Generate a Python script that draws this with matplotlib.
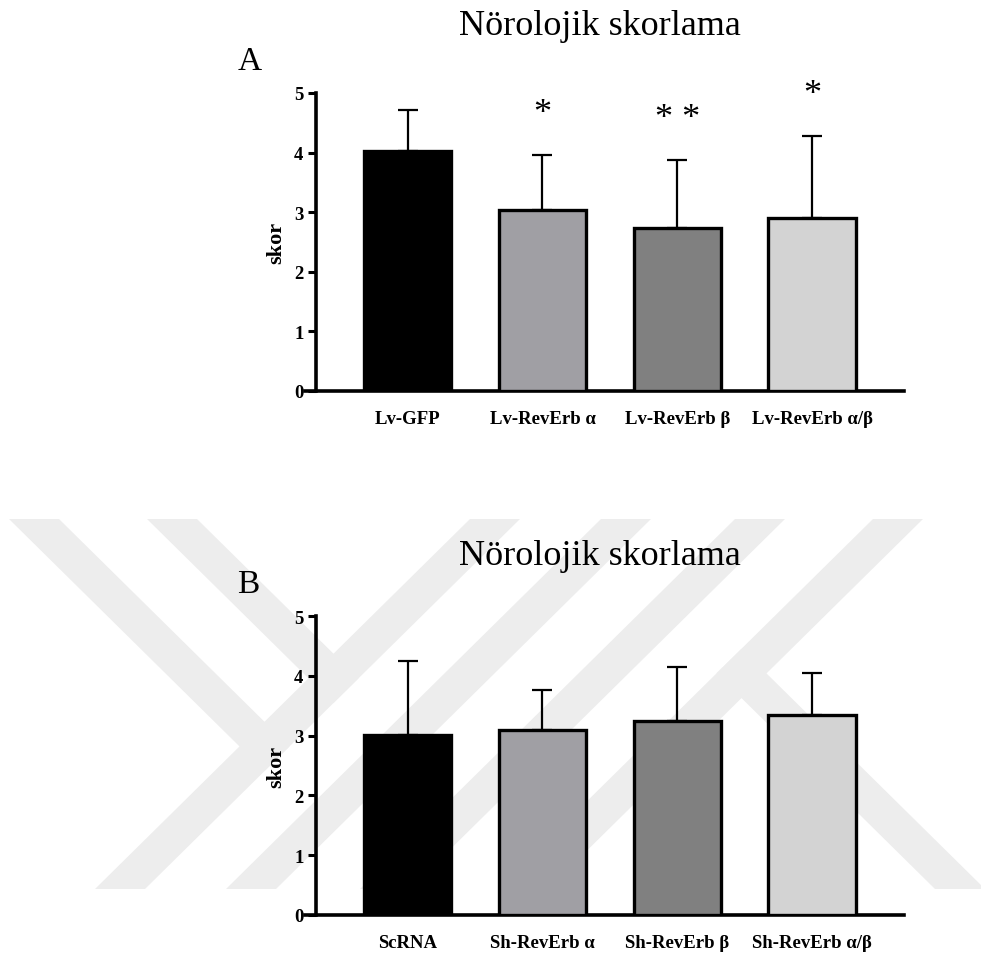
import matplotlib
matplotlib.use("Agg")
import matplotlib.pyplot as plt
from matplotlib.patches import Polygon

# ── Data ──────────────────────────────────────────────────────────────────────
groups_a = ["Lv-GFP", "Lv-RevErb α", "Lv-RevErb β", "Lv-RevErb α/β"]
means_a  = [4.03, 3.03, 2.73, 2.90]
err_a    = [0.69, 0.93, 1.15, 1.38]
stars_a  = ["", "*", "* *", "*"]

groups_b = ["ScRNA", "Sh-RevErb α", "Sh-RevErb β", "Sh-RevErb α/β"]
means_b  = [3.01, 3.10, 3.24, 3.34]
err_b    = [1.24, 0.66, 0.90, 0.70]

bar_colors = ["#000000", "#a09fa4", "#808080", "#d3d3d3"]
title = "Nörolojik skorlama"
yticks = [0, 1, 2, 3, 4, 5]

plt.rcParams["font.family"] = ["Liberation Serif", "DejaVu Serif"]

W, H = 981, 962
fig = plt.figure(figsize=(W / 100, H / 100), dpi=100)
fig.patch.set_facecolor("white")


# ── Watermark (pale diagonal bands behind panel B) ───────────────────────────
wm = fig.add_axes([0, 0, 1, 1], zorder=-1)
wm.set_xlim(0, W)
wm.set_ylim(H, 0)
wm.axis("off")

WM_TOP, WM_BOT = 520, 890
K = 375 / 370          # horizontal shift per pixel down
BAND = 50
WM_COLOR = "#ededed"
slash_tops = [470, 601, 735, 873]      # "/" bands, left edge at top
back_tops = [9, 147]                   # "\" bands, end on first "/" band
back_bottom = 935                      # "\" band at right, starts on last "/" band


def add_poly(pts):
    wm.add_patch(Polygon(pts, closed=True, facecolor=WM_COLOR, edgecolor="none"))


span = WM_BOT - WM_TOP
for xt in slash_tops:
    add_poly([(xt, WM_TOP), (xt + BAND, WM_TOP),
              (xt + BAND - K * span, WM_BOT), (xt - K * span, WM_BOT)])

q = slash_tops[0] + BAND               # right edge of first "/" band at top
for p in back_tops:
    d1 = (q - (p + BAND)) / (2 * K)
    d2 = (q - p) / (2 * K)
    add_poly([(p, WM_TOP), (p + BAND, WM_TOP),
              (p + BAND + K * d1, WM_TOP + d1), (p + K * d2, WM_TOP + d2)])

q = slash_tops[-1]                     # left edge of last "/" band at top
p0 = back_bottom - K * span
d1 = (q - p0) / (2 * K)
d2 = (q - (p0 + BAND)) / (2 * K)
add_poly([(p0 + K * d1, WM_TOP + d1), (p0 + BAND + K * d2, WM_TOP + d2),
          (back_bottom + BAND, WM_BOT), (back_bottom, WM_BOT)])


# ── Panels ────────────────────────────────────────────────────────────────────
def px_axes(x0, x1, y_top, y_bot):
    return fig.add_axes([x0 / W, 1 - y_bot / H, (x1 - x0) / W, (y_bot - y_top) / H])


def panel(ax, groups, means, errs, stars=None):
    x = list(range(len(groups)))
    ax.set_facecolor("none")
    # spine position first: moving a spine resets its axis ticks
    ax.spines["left"].set_position(("data", -0.678))
    ax.spines["top"].set_visible(False)
    ax.spines["right"].set_visible(False)
    ax.spines["left"].set_linewidth(2.6)
    ax.spines["bottom"].set_linewidth(2.6)

    ax.errorbar(x, means, yerr=[[0] * len(errs), errs], fmt="none",
                ecolor="black", elinewidth=1.6, capsize=7, capthick=1.6, zorder=2)
    ax.bar(x, means, width=0.65, color=bar_colors, edgecolor="black",
           linewidth=2.4, zorder=3)
    ax.set_xlim(-0.76, 3.68)
    ax.set_ylim(0, 5)
    ax.set_yticks(yticks, labels=[str(t) for t in yticks],
                  fontsize=13.5, fontweight="bold")
    ax.set_xticks(x, labels=groups, fontsize=13.5, fontweight="bold")
    ax.tick_params(axis="y", length=6, width=2.2, pad=3)
    ax.tick_params(axis="x", length=0, pad=14)
    ax.set_ylabel("skor", fontsize=16, fontweight="bold", labelpad=6)
    if stars:
        for i, s in enumerate(stars):
            if s:
                ax.annotate(s, xy=(i, means[i] + errs[i]), xytext=(0, 30),
                            textcoords="offset points", ha="center",
                            va="center", fontsize=26)


ax_a = px_axes(305, 904, 94, 392)
panel(ax_a, groups_a, means_a, err_a, stars_a)

ax_b = px_axes(305, 904, 617, 916)
panel(ax_b, groups_b, means_b, err_b)

# titles and panel letters
fig.text(600 / W, 1 - 35 / H, title, ha="center", va="baseline", fontsize=26)
fig.text(600 / W, 1 - 565 / H, title, ha="center", va="baseline", fontsize=26)
fig.text(238 / W, 1 - 70 / H, "A", ha="left", va="baseline", fontsize=24)
fig.text(237 / W, 1 - 593 / H, "B", ha="left", va="baseline", fontsize=24)

fig.savefig("out.png", dpi=100, facecolor="white")
